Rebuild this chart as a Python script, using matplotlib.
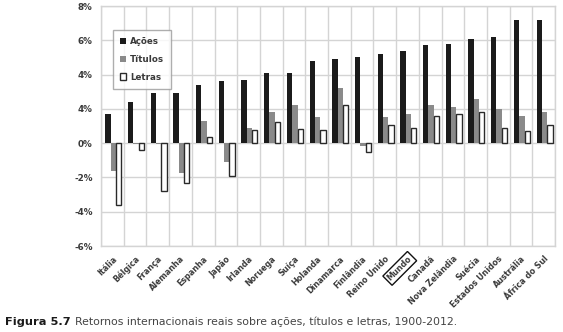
import matplotlib
matplotlib.use("Agg")
import matplotlib.pyplot as plt
import numpy as np

# Real annualised returns 1900-2012, percent
countries = ["Itália", "Bélgica", "França", "Alemanha", "Espanha", "Japão",
             "Irlanda", "Noruega", "Suíça", "Holanda", "Dinamarca", "Finlândia",
             "Reino Unido", "Mundo", "Canadá", "Nova Zelândia", "Suécia",
             "Estados Unidos", "Austrália", "África do Sul"]
acoes = [1.7, 2.4, 2.9, 2.9, 3.4, 3.6, 3.7, 4.1, 4.1, 4.8,
         4.9, 5.0, 5.2, 5.4, 5.7, 5.8, 6.1, 6.2, 7.2, 7.2]
titulos = [-1.6, -0.05, -0.05, -1.75, 1.3, -1.1, 0.9, 1.8, 2.2, 1.5,
           3.2, -0.15, 1.5, 1.7, 2.2, 2.1, 2.6, 2.0, 1.6, 1.8]
letras = [-3.6, -0.4, -2.8, -2.3, 0.35, -1.9, 0.75, 1.25, 0.85, 0.75,
          2.2, -0.5, 1.05, 0.9, 1.6, 1.7, 1.8, 0.9, 0.7, 1.05]

# y tick labels as printed (the 2% line carries a "4%" label)
ytick_vals = [-6, -4, -2, 0, 2, 4, 6, 8]
ytick_labels = ["-6%", "-4%", "-2%", "0%", "4%", "4%", "6%", "8%"]

BLACK = "#1b1b1b"
GREY = "#8a8a8a"
GRID = "#d4d4d4"
TXT = "#3a3a3a"

fig = plt.figure(figsize=(5.63, 3.32), dpi=100)
ax = fig.add_axes([101 / 563, 86 / 332, 454 / 563, 240 / 332])

x = np.arange(len(countries))
w = 0.235
ax.bar(x - w + 0.04, acoes, w, color=BLACK, label="Ações", zorder=3)
ax.bar(x + 0.04, titulos, w, color=GREY, label="Títulos", zorder=3)
ax.bar(x + w + 0.04, letras, w, facecolor="white", edgecolor="#2a2a2a",
       linewidth=1.0, label="Letras", zorder=3)

ax.set_xlim(-0.5, len(countries) - 0.5)
ax.set_ylim(-6, 8)
ax.set_yticks(ytick_vals)
ax.set_yticklabels(ytick_labels, fontsize=6.3, fontweight="bold", color=TXT)

# vertical grid on category boundaries, horizontal grid on y ticks
ax.set_xticks(np.arange(len(countries) + 1) - 0.5, minor=True)
ax.grid(axis="x", which="minor", color=GRID, lw=1.0, zorder=0)
ax.grid(axis="y", which="major", color=GRID, lw=1.0, zorder=0)
ax.set_xticks(x)
ax.set_xticklabels([])
ax.tick_params(axis="both", which="both", length=0)
ax.tick_params(axis="y", pad=6)
for s in ax.spines.values():
    s.set_color(GRID)
    s.set_linewidth(1.0)

# rotated category labels
for i, name in enumerate(countries):
    kw = {}
    if name == "Mundo":
        kw["bbox"] = dict(boxstyle="square,pad=0.25", fc="white",
                          ec="#111111", lw=1.0)
    ax.annotate(name, xy=(i, -6), xycoords="data",
                xytext=(0, -6), textcoords="offset points",
                rotation=45, ha="right", va="top", rotation_mode="anchor",
                fontsize=5.8, fontweight="bold", color=TXT, **kw)

leg = ax.legend(loc="upper left", bbox_to_anchor=(0.026, 0.9),
                prop={"weight": "bold", "size": 6.3},
                frameon=True, fancybox=False, edgecolor="#9a9a9a",
                handlelength=0.7, handleheight=0.7, handletextpad=0.5,
                labelspacing=1.0, borderpad=0.8, borderaxespad=0)
leg.get_frame().set_linewidth(1.0)
for t in leg.get_texts():
    t.set_color(TXT)

fig.text(0.009, 0.03, "Figura 5.7", fontsize=8.2, fontweight="bold",
         color="#1a1a1a", ha="left", va="center")
fig.text(0.133, 0.03,
         "Retornos internacionais reais sobre ações, títulos e letras, 1900-2012.",
         fontsize=7.8, color="#444444", ha="left", va="center")

fig.savefig("out.png", dpi=100, facecolor="white")
